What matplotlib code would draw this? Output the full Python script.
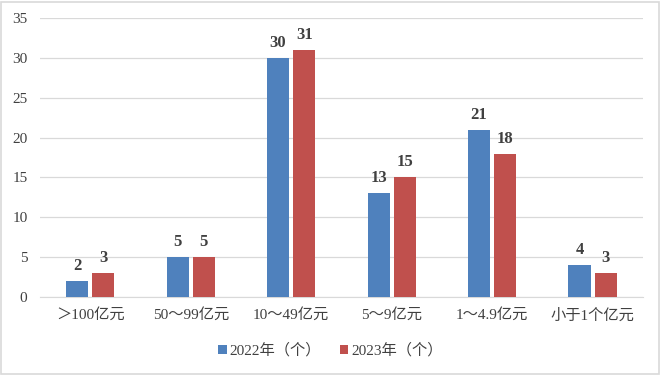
import matplotlib
matplotlib.use("Agg")
import matplotlib.pyplot as plt
import numpy as np
from matplotlib.patches import Rectangle

plt.rcParams['font.family'] = ['Liberation Serif', 'Noto Sans CJK SC', 'DejaVu Sans']

categories = ["＞100亿元", "50～99亿元", "10～49亿元", "5～9亿元", "1～4.9亿元", "小于1个亿元"]
series_names = ["2022年（个）", "2023年（个）"]
values_2022 = [2, 5, 30, 13, 21, 4]
values_2023 = [3, 5, 31, 15, 18, 3]
yticks = [0, 5, 10, 15, 20, 25, 30, 35]

colors = ["#4f81bd", "#c0504d"]
text_color = "#404040"

fig = plt.figure(figsize=(6.61, 3.75), dpi=100)
ax = fig.add_axes([0.0605, 0.208, 0.912, 0.744])

x = np.arange(len(categories))
w = 0.22
off = 0.13
b1 = ax.bar(x - off, values_2022, w, color=colors[0], label=series_names[0], zorder=3)
b2 = ax.bar(x + off, values_2023, w, color=colors[1], label=series_names[1], zorder=3)

for bars in (b1, b2):
    for r in bars:
        ax.annotate(f"{int(r.get_height())}", (r.get_x() + r.get_width() / 2, r.get_height()),
                    xytext=(0, 5), textcoords="offset points", ha="center", va="bottom",
                    fontsize=12, fontweight="bold", color=text_color)

ax.set_xlim(-0.5, len(categories) - 0.5)
ax.set_ylim(0, 35)
ax.set_yticks(yticks)
ax.set_yticklabels([str(t) for t in yticks], fontsize=11, color=text_color)
ax.set_xticks(x)
ax.set_xticklabels(categories, fontsize=11, color=text_color)
ax.tick_params(axis="both", length=0)
ax.tick_params(axis="y", pad=9)
ax.tick_params(axis="x", pad=8)
ax.grid(axis="y", color="#d9d9d9", linewidth=0.9, zorder=0)
for s in ["top", "right", "left"]:
    ax.spines[s].set_visible(False)
ax.spines["bottom"].set_color("#d9d9d9")

leg = fig.legend(handles=[b1, b2], labels=series_names, loc="center", bbox_to_anchor=(0.5, 0.065),
                 ncol=2, frameon=False, fontsize=11, handlelength=0.55, handleheight=0.55,
                 handletextpad=0.2, columnspacing=1.2)
for t in leg.get_texts():
    t.set_color(text_color)

fig.patches.append(Rectangle((0.002, 0.003), 0.995, 0.993, transform=fig.transFigure,
                             fill=False, edgecolor="#d9d9d9", linewidth=1.2))

fig.savefig("out.png", dpi=100)
